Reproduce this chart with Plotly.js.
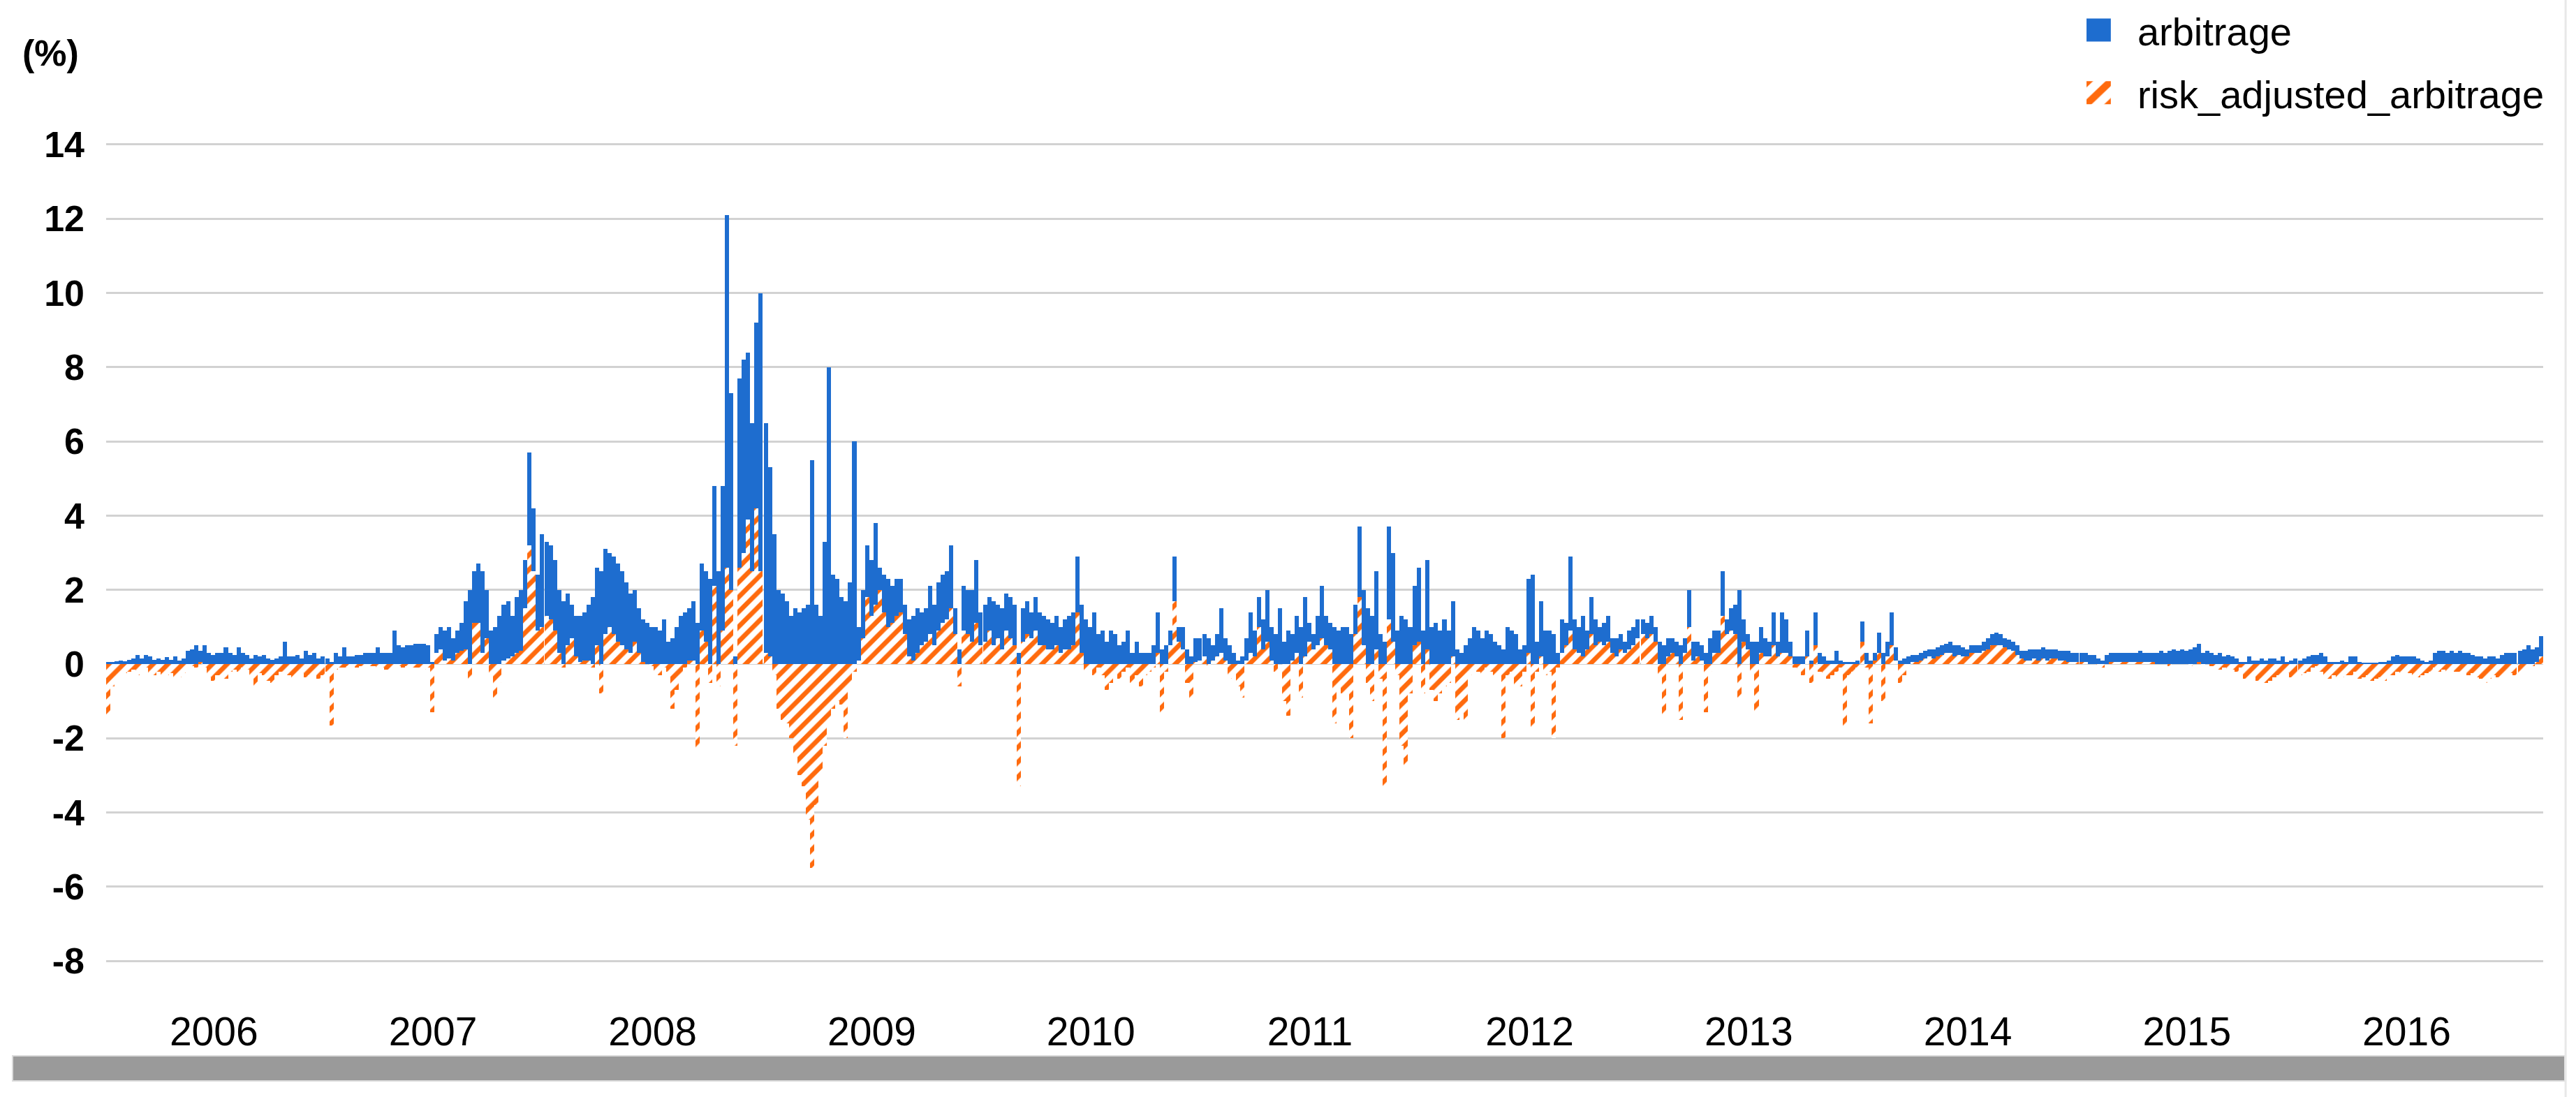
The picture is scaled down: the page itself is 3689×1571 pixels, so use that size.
<!DOCTYPE html>
<html><head><meta charset="utf-8">
<script src="https://cdn.plot.ly/plotly-3.0.1.min.js"></script>
<style>html,body{margin:0;padding:0;background:#fff}#chart{width:3689px;height:1571px}</style>
</head><body><div id="chart"></div>
<script>
// Weekly readings (%), one array per calendar year
const years = [2006, 2007, 2008, 2009, 2010, 2011, 2012, 2013, 2014, 2015, 2016, 2017];
const yearLabels = ['2006','2007','2008','2009','2010','2011','2012','2013','2014','2015','2016'];
const yTickVals = [-8,-6,-4,-2,0,2,4,6,8,10,12,14];
const yTickText = ['-8','-6','-4','-2','0','2','4','6','8','10','12','14'];

const arb2006 = [0.05,0.05,0.08,0.1,0.08,0.12,0.15,0.25,0.15,0.25,0.2,0.12,0.15,0.12,0.18,0.12,0.2,0.1,0.15,0.35,0.4,0.5,0.35,0.5,0.3,0.25,0.3,0.3,0.45,0.3,0.25,0.45,0.3,0.25,0.15,0.25,0.2,0.25,0.15,0.12,0.15,0.2,0.6,0.2,0.2,0.25,0.15,0.35,0.25,0.3,0.15,0.2];
const arb2007 = [0.15,0.05,0.3,0.2,0.45,0.2,0.2,0.25,0.25,0.3,0.3,0.3,0.45,0.3,0.3,0.3,0.9,0.5,0.45,0.5,0.5,0.55,0.55,0.55,0.5,0.05,0.8,1.0,0.9,1.0,0.7,0.9,1.1,1.7,2.0,2.5,2.7,2.5,2.0,0.9,1.0,1.3,1.6,1.7,1.3,1.8,2.0,2.8,5.7,4.2,2.4,3.5];
const arb2008 = [3.3,3.2,2.8,2.0,1.7,1.9,1.6,1.3,1.3,1.4,1.6,1.8,2.6,2.5,3.1,3.0,2.9,2.7,2.5,2.2,1.9,2.0,1.5,1.2,1.1,1.0,1.0,0.9,1.2,0.6,0.7,1.0,1.3,1.4,1.5,1.7,1.1,2.7,2.5,2.3,4.8,2.5,4.8,12.1,7.3,0.2,7.7,8.2,8.4,6.5,9.2,10.0];
const arb2009 = [6.5,5.3,3.5,2.0,1.9,1.7,1.3,1.5,1.4,1.5,1.6,5.5,1.6,1.3,3.3,8.0,2.4,2.3,1.8,1.7,2.2,6.0,1.0,2.0,3.2,2.8,3.8,2.6,2.4,2.3,2.1,2.3,2.3,1.6,1.2,1.3,1.5,1.4,1.5,2.1,1.6,2.2,2.4,2.5,3.2,1.5,0.4,2.1,2.0,2.0,2.8,1.4];
const arb2010 = [1.6,1.8,1.7,1.6,1.5,1.9,1.8,1.6,0.3,1.5,1.7,1.4,1.8,1.4,1.3,1.2,1.1,1.3,1.0,1.2,1.3,1.4,2.9,1.6,1.2,1.0,1.4,0.8,0.9,0.6,0.9,0.8,0.5,0.6,0.9,0.3,0.6,0.3,0.3,0.3,0.5,1.4,0.4,0.5,0.9,2.9,1.0,1.0,0.4,0.2,0.7,0.7];
const arb2011 = [0.8,0.7,0.5,0.8,1.5,0.7,0.5,0.3,0.1,0.2,0.7,1.4,0.9,1.8,1.2,2.0,1.0,0.8,1.5,0.6,0.9,0.8,1.3,1.0,1.8,1.1,0.8,1.3,2.1,1.3,1.1,1.0,0.9,1.0,1.0,0.8,1.6,3.7,2.0,1.5,1.3,2.5,0.8,0.6,3.7,3.0,0.9,1.3,1.2,1.0,2.1,2.6];
const arb2012 = [0.9,2.8,1.0,1.1,0.9,1.2,0.9,1.7,0.4,0.3,0.5,0.7,1.0,0.9,0.7,0.9,0.8,0.6,0.5,0.4,1.0,0.9,0.8,0.4,0.5,2.3,2.4,0.6,1.7,0.9,0.9,0.8,0.3,1.2,1.1,2.9,1.2,1.0,1.3,0.9,1.8,1.2,1.0,1.1,1.3,0.7,0.7,0.8,0.6,0.9,1.0,1.2];
const arb2013 = [1.2,1.1,1.3,1.0,0.6,0.5,0.7,0.7,0.6,0.5,0.7,2.0,0.6,0.6,0.5,0.3,0.7,0.9,0.9,2.5,1.2,1.5,1.6,2.0,1.2,0.8,0.6,0.6,1.0,0.7,0.6,1.4,0.6,1.4,1.2,0.6,0.2,0.2,0.2,0.9,0.1,1.4,0.3,0.2,0.1,0.1,0.35,0.1,0.05,0.05,0.05,0.1];
const arb2014 = [1.15,0.3,0.1,0.3,0.85,0.3,0.6,1.4,0.45,0.1,0.15,0.2,0.25,0.25,0.3,0.35,0.4,0.4,0.45,0.5,0.55,0.6,0.5,0.5,0.45,0.4,0.5,0.5,0.5,0.6,0.7,0.8,0.85,0.8,0.7,0.65,0.6,0.5,0.35,0.35,0.4,0.4,0.4,0.45,0.4,0.4,0.4,0.35,0.35,0.35,0.3,0.3];
const arb2015 = [0.3,0.3,0.25,0.25,0.15,0.1,0.25,0.3,0.3,0.3,0.3,0.3,0.3,0.3,0.35,0.3,0.3,0.3,0.3,0.35,0.3,0.35,0.4,0.35,0.4,0.35,0.4,0.45,0.55,0.3,0.35,0.3,0.25,0.3,0.2,0.25,0.2,0.15,0.05,0.05,0.2,0.1,0.1,0.15,0.1,0.15,0.15,0.1,0.2,0.05,0.1,0.15];
const arb2016 = [0.1,0.15,0.2,0.25,0.25,0.3,0.2,0.05,0.05,0.05,0.1,0.05,0.2,0.2,0.05,0.03,0.03,0.03,0.03,0.05,0.05,0.1,0.2,0.25,0.2,0.2,0.2,0.2,0.15,0.1,0.05,0.1,0.3,0.35,0.35,0.3,0.35,0.3,0.35,0.3,0.3,0.25,0.2,0.2,0.15,0.2,0.2,0.15,0.25,0.3,0.3,0.3];
const arb2017 = [0.35,0.4,0.5,0.4,0.45,0.75];

const risk2006 = [-1.4,-0.6,-0.35,-0.3,-0.25,-0.2,-0.15,-0.3,-0.15,-0.1,-0.25,-0.3,-0.2,-0.35,-0.3,-0.25,-0.4,-0.35,-0.25,-0.1,-0.05,-0.1,0.05,-0.1,-0.35,-0.45,-0.3,-0.3,-0.4,-0.2,-0.15,-0.2,-0.1,-0.15,-0.3,-0.6,-0.25,-0.3,-0.45,-0.5,-0.3,-0.2,-0.2,-0.3,-0.4,-0.3,-0.25,-0.35,-0.3,-0.25,-0.4,-0.3];
const risk2007 = [-0.2,-1.65,-0.15,-0.1,-0.1,-0.05,-0.05,-0.1,-0.05,-0.1,-0.05,-0.05,-0.1,-0.1,-0.15,-0.2,-0.1,-0.05,-0.1,-0.05,-0.1,-0.1,-0.1,-0.15,-0.1,-1.3,0.3,0.4,0.1,0.15,0.1,0.3,0.35,0.4,-0.4,1.1,1.1,0.3,0.7,-0.3,-0.9,-0.5,0.1,0.15,0.2,0.3,0.35,1.5,3.2,2.5,0.9,1.0];
const risk2008 = [1.3,1.2,0.9,0.3,-0.1,0.5,0.7,0.2,0.05,0.1,0.1,-0.1,0.5,-0.8,0.8,1.0,0.8,0.6,0.5,0.4,0.3,0.6,0.3,0.05,0.0,-0.05,-0.2,-0.3,-0.1,-0.2,-1.2,-0.7,-0.3,-0.1,0.1,0.1,-2.3,0.9,0.6,-0.5,2.1,-0.6,0.9,2.6,2.0,-2.2,2.6,3.0,3.9,2.5,4.2,2.5];
const risk2009 = [0.3,0.2,-0.3,-1.2,-1.5,-1.6,-2.0,-2.5,-3.0,-3.3,-4.2,-5.5,-3.8,-3.0,-2.2,-1.5,-1.2,-1.0,-1.1,-2.0,-0.6,-0.2,0.1,0.7,1.8,1.3,1.6,2.0,1.4,1.0,1.1,1.3,1.4,0.8,0.2,0.1,0.3,0.5,0.6,0.8,0.5,0.9,1.1,1.2,1.5,0.8,-0.6,0.9,0.8,0.6,1.1,0.5];
const risk2010 = [0.6,0.9,0.5,0.7,0.4,0.9,0.7,0.5,-3.3,0.6,0.8,0.7,0.9,0.5,0.5,0.4,0.4,0.5,0.3,0.4,0.4,0.5,1.4,0.3,-0.2,-0.1,-0.3,-0.1,-0.3,-0.7,-0.5,-0.2,-0.4,-0.2,-0.1,-0.5,-0.3,-0.6,-0.3,-0.2,-0.1,0.3,-1.4,-0.2,0.5,1.7,0.6,0.4,-0.5,-1.0,0.05,0.1];
const risk2011 = [0.2,-0.1,0.1,0.2,0.3,0.1,-0.4,-0.2,-0.6,-0.9,0.1,0.3,0.2,1.0,0.4,0.6,0.1,-0.2,0.0,-1.0,-1.4,0.1,0.3,-0.9,0.2,0.6,0.4,0.5,0.7,0.5,0.4,-1.6,-0.6,-0.8,-0.8,-2.0,0.8,1.8,0.5,-0.5,-1.0,0.4,-0.4,-3.3,1.2,0.6,-0.3,-2.2,-2.8,-0.8,0.5,0.6];
const risk2012 = [-0.8,0.4,-0.7,-1.0,-0.8,-0.6,-0.5,0.2,-1.5,-1.2,-1.6,-0.3,-0.1,-0.2,-0.3,-0.1,-0.2,-0.3,-0.3,-2.0,-0.3,-0.2,-0.6,-0.6,-0.2,0.3,-1.7,-0.2,0.2,-0.3,-0.2,-2.0,-0.1,0.3,0.5,0.9,0.4,0.3,0.2,0.4,0.8,0.5,0.6,0.5,0.6,0.3,0.2,0.4,0.3,0.4,0.5,0.7];
const risk2013 = [0.8,0.7,0.8,0.6,-0.3,-1.4,0.2,0.3,0.2,-1.5,0.3,1.0,0.1,0.2,0.1,-1.3,-0.2,0.3,0.3,1.3,0.8,0.9,0.8,-0.9,0.6,0.4,-0.2,-1.3,0.3,0.2,0.2,0.5,0.2,0.3,0.3,0.2,-0.1,-0.2,-0.3,0.2,-0.5,0.5,-0.2,-0.3,-0.4,-0.3,-0.2,-0.1,-1.7,-0.3,-0.2,-0.1];
const risk2014 = [0.6,-0.1,-1.6,0.1,0.3,-1.0,0.2,0.5,0.1,-0.5,-0.3,-0.05,0.05,0.05,0.1,0.15,0.2,0.15,0.2,0.25,0.3,0.3,0.2,0.25,0.2,0.2,0.3,0.3,0.3,0.35,0.4,0.5,0.5,0.5,0.45,0.4,0.35,0.25,0.15,0.1,0.1,0.15,0.1,0.15,0.1,0.15,0.15,0.1,0.1,0.05,0.05,0.05];
const risk2015 = [0.05,0.05,0.0,0.0,-0.05,-0.1,0.0,0.05,0.05,0.05,0.05,0.05,0.05,0.05,0.05,0.05,0.05,0.05,0.0,0.0,0.0,-0.05,0.0,0.0,0.0,0.0,-0.05,0.0,0.05,-0.05,0.0,-0.05,-0.05,-0.15,-0.1,-0.15,-0.15,-0.2,-0.1,-0.4,-0.35,-0.3,-0.45,-0.4,-0.5,-0.45,-0.35,-0.3,-0.3,-0.25,-0.35,-0.3];
const risk2016 = [-0.3,-0.25,-0.2,-0.1,-0.05,-0.2,-0.35,-0.4,-0.3,-0.45,-0.35,-0.3,-0.3,-0.2,-0.4,-0.35,-0.3,-0.45,-0.4,-0.35,-0.45,-0.3,-0.3,-0.2,-0.25,-0.2,-0.25,-0.3,-0.35,-0.3,-0.25,-0.2,-0.1,-0.2,-0.15,-0.2,-0.15,-0.2,-0.2,-0.15,-0.3,-0.25,-0.35,-0.4,-0.5,-0.4,-0.3,-0.35,-0.4,-0.3,-0.25,-0.3];
const risk2017 = [-0.25,-0.2,-0.1,-0.05,0.05,0.2];

const arbByYear = [arb2006,arb2007,arb2008,arb2009,arb2010,arb2011,arb2012,arb2013,arb2014,arb2015,arb2016,arb2017];
const riskByYear = [risk2006,risk2007,risk2008,risk2009,risk2010,risk2011,risk2012,risk2013,risk2014,risk2015,risk2016,risk2017];

// weekly category dates for each year's readings
const x = [], arb = [], risk = [];
years.forEach((yr, i) => {
  arbByYear[i].forEach((v, k) => {
    const d = new Date(Date.UTC(yr, 0, 7 + 7 * k));
    x.push(d.toISOString().slice(0, 10));
    arb.push(v);
    risk.push(riskByYear[i][k]);
  });
});

const BLUE = '#1e6dcf', ORANGE = '#ff6a0d';
const traces = [
  {type:'bar', name:'arbitrage', x:x, y:arb, legendgroup:'a',
   marker:{color:BLUE, line:{width:0}}},
  {type:'bar', name:'risk_adjusted_arbitrage', x:x, y:risk, legendgroup:'b',
   marker:{color:'#ffffff', line:{width:0},
           pattern:{shape:'/', fgcolor:ORANGE, bgcolor:'#ffffff', size:15, solidity:0.45, fillmode:'replace'}}}
];

const layout = {
  width:3689, height:1571,
  margin:{l:152, r:47, t:191, b:179, pad:0, autoexpand:false},
  paper_bgcolor:'#ffffff', plot_bgcolor:'#ffffff',
  barmode:'overlay', bargap:0,
  font:{family:'"Liberation Sans", Arial, sans-serif', color:'#000000', size:54},
  hovermode:false,
  xaxis:{type:'date', range:['2006-01-03 12:00','2017-02-14 12:00'],
         tickmode:'array', tickvals:yearLabels.map(y => y + '-07-02'), ticktext:yearLabels,
         showgrid:false, zeroline:false, showline:false, ticks:'',
         tickfont:{size:57, color:'#000'}, ticklabelstandoff:47, automargin:false},
  yaxis:{range:[-8.3,14.3], tickmode:'array', tickvals:yTickVals, ticktext:yTickText,
         showgrid:true, gridcolor:'#d2d2d2', gridwidth:3,
         zeroline:false, showline:false, ticks:'', automargin:false,
         tickfont:{size:52, color:'#000', weight:'bold'}, ticklabelstandoff:30},
  legend:{x:0.8017, y:1.159, xanchor:'left', yanchor:'top', orientation:'v',
          font:{size:56, color:'#000'}, traceorder:'grouped', tracegroupgap:14,
          itemwidth:101, bgcolor:'rgba(0,0,0,0)', borderwidth:0},
  annotations:[{text:'(%)', xref:'paper', yref:'paper', x:-0.0106, y:1.0958,
                xanchor:'right', yanchor:'middle', showarrow:false,
                font:{size:52, color:'#000', weight:'bold'}}],
  shapes:[
    {type:'rect', xref:'paper', yref:'paper', x0:-0.0384, x1:1.0089, y0:-0.1299, y1:-0.0999,
     fillcolor:'#9a9a9a', line:{color:'#dcdcdc', width:2}, layer:'above'},
    {type:'line', xref:'paper', yref:'paper', x0:1.0092, x1:1.0092, y0:-0.16, y1:1.16,
     line:{color:'#e8e8e8', width:3}}
  ]
};

Plotly.newPlot('chart', traces, layout, {staticPlot:true, displayModeBar:false}).then(gd => {
  // enlarge the legend swatches to the reference's size (keeps Plotly's own centring)
  gd.querySelectorAll('.legend .legendpoints path').forEach(p => {
    const t = p.getAttribute('transform') || '';
    p.setAttribute('transform', t + ' scale(2.9,2.75)');
  });
});
</script>
</body></html>
